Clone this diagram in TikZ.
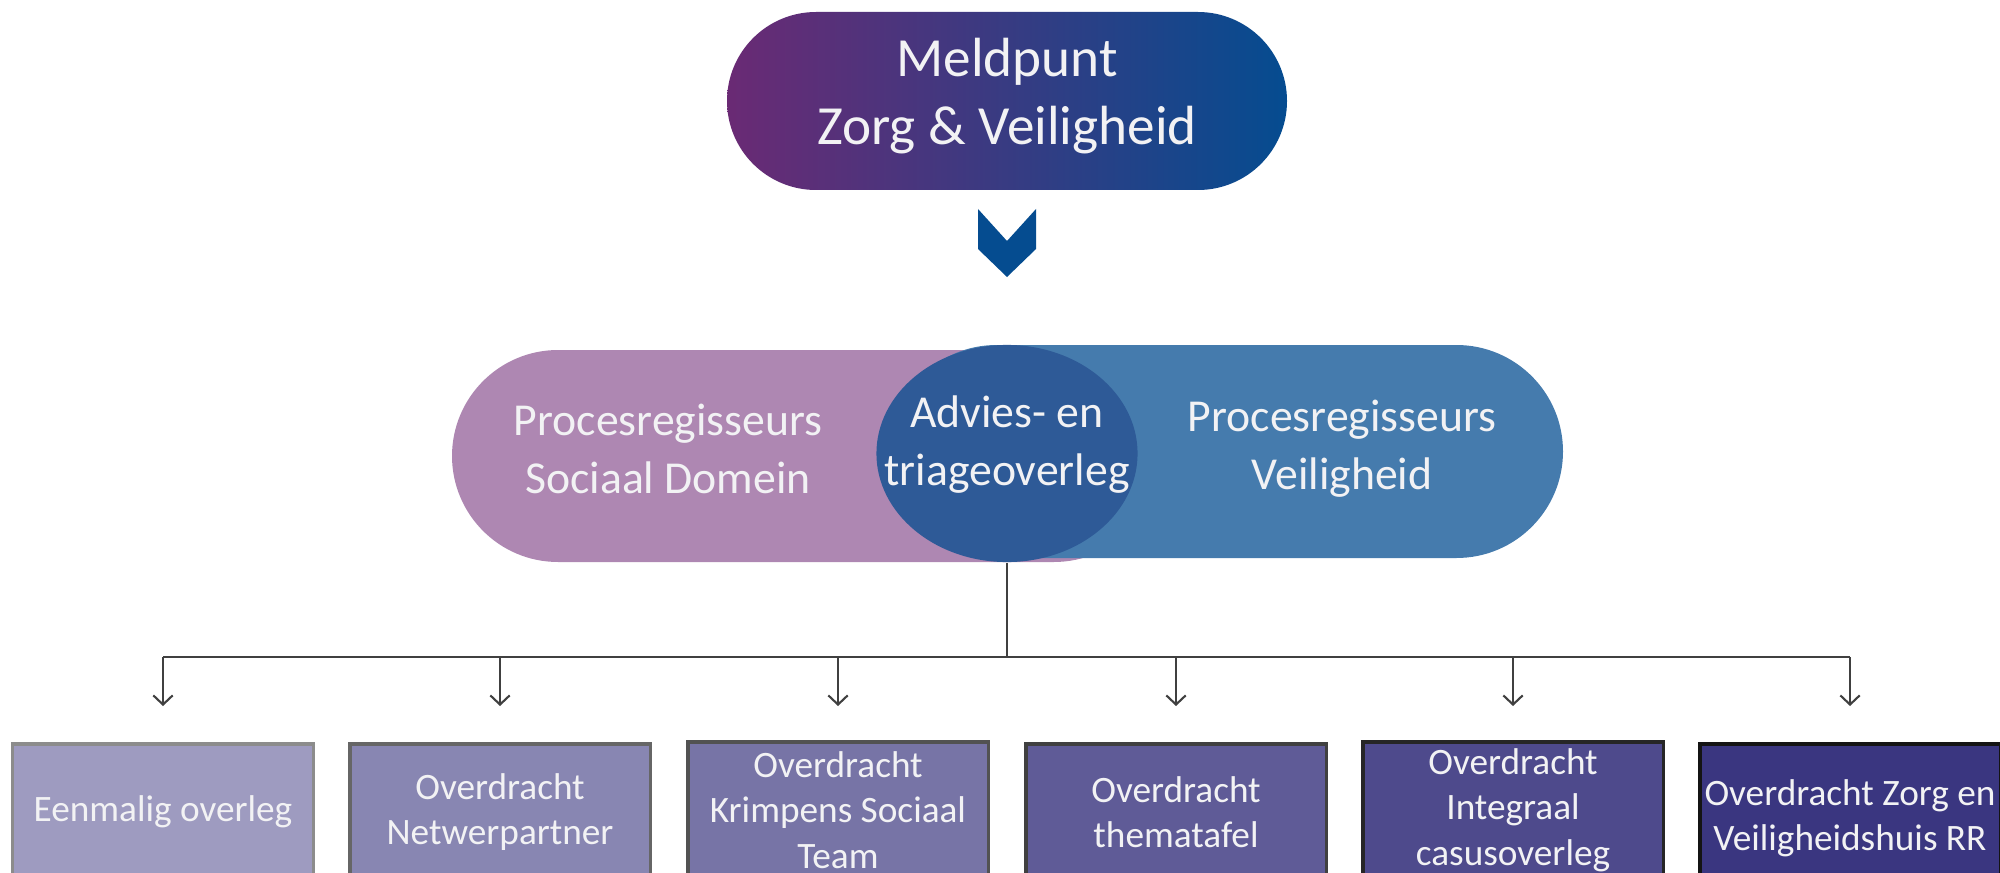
\documentclass[tikz,border=0pt]{standalone}
\usepackage{fontspec}
\setmainfont{Carlito}
\usetikzlibrary{shapes.geometric,arrows.meta}
\definecolor{gradL}{HTML}{6A2A74}
\definecolor{gradR}{HTML}{054C90}
\definecolor{pillP}{HTML}{AE87B2}
\definecolor{pillB}{HTML}{457BAD}
\definecolor{triC}{HTML}{2E5A97}
\definecolor{bA}{HTML}{9E9BC0}
\definecolor{bB}{HTML}{8886B2}
\definecolor{bC}{HTML}{7774A6}
\definecolor{bD}{HTML}{5F5B97}
\definecolor{bE}{HTML}{4E4A8C}
\definecolor{bF}{HTML}{3A3680}
\definecolor{txt}{HTML}{F2F2F4}
\tikzset{
  lbl/.style={text=txt, align=center, font=\fontsize{13}{16.5}\selectfont},
  outbox/.style={rectangle, minimum width=3cm, minimum height=1.36cm, text=txt, align=center,
     font=\fontsize{10.6}{12.9}\selectfont, line width=0.9pt, inner sep=1pt},
  conn/.style={draw=black!75, line width=0.6pt},
  arr/.style={conn, -{Straight Barb[length=2.6pt,width=5.5pt]}},
}
\begin{document}
\begin{tikzpicture}[x=0.01cm,y=-0.01cm]
\useasboundingbox (0,0) rectangle (2000,873);
\clip (0,0) rectangle (2000,873);
% top pill
\shade[left color=gradL, right color=gradR, rounded corners=0.89cm] (727,12) rectangle (1287,190);
\node[text=txt, align=center, font=\fontsize{15.7}{19.5}\selectfont] (meld) at (1007,96) {Meldpunt\\Zorg \& Veiligheid};
% chevron
\fill[gradR] (978,209) -- (1007,241) -- (1036,209) -- (1036,249) -- (1007,277) -- (978,249) -- cycle;
% middle pills
\fill[pillP, rounded corners=1.06cm] (452,350) rectangle (1160,562);
\fill[pillB, rounded corners=1.065cm] (890,345) rectangle (1563,558);
\node[ellipse, fill=triC, minimum width=2.61cm, minimum height=2.17cm, inner sep=0pt] (tri) at (1007,453.5) {};
\node[lbl] (sd) at (668,449) {Procesregisseurs\\Sociaal Domein};
\node[lbl] (adv) at (1007,445) {Advies- en\\triageoverleg};
\node[lbl] (vh) at (1342,449) {Procesregisseurs\\Veiligheid};
% boxes
\node[outbox, fill=bA, draw=black!45] (b1) at (163,812) {Eenmalig overleg};
\node[outbox, fill=bB, draw=black!60] (b2) at (500,812) {Overdracht\\Netwerpartner};
\node[outbox, fill=bC, draw=black!68] (b3) at (838,810) {Overdracht\\Krimpens Sociaal\\Team};
\node[outbox, fill=bD, draw=black!75] (b4) at (1176,812) {Overdracht\\thematafel};
\node[outbox, fill=bE, draw=black!85] (b5) at (1513,810) {Overdracht\\Integraal\\casusoverleg};
\node[outbox, fill=bF, draw=black!92, minimum height=1.48cm] (b6) at (1850,818) {Overdracht Zorg en\\Veiligheidshuis RR};
% connectors
\coordinate (hub) at (1007,657);
\coordinate (hl) at (163,657);
\coordinate (hr) at (1850,657);
\draw[conn] (tri.south) -- (hub);
\draw[conn] (hl) -- (hr);
\foreach \b/\x in {b1/163,b2/500,b3/838,b4/1176,b5/1513,b6/1850}{
  \draw[arr] (\x,657) -- (\x,706);
}
\end{tikzpicture}
\end{document}
